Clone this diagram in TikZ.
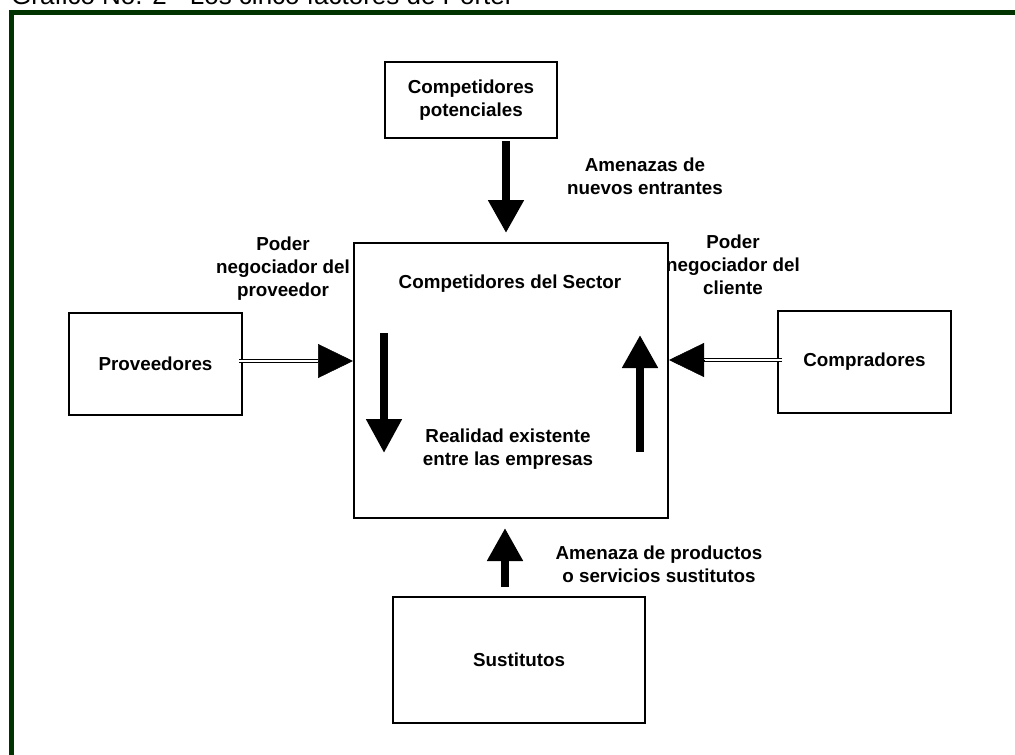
\documentclass[tikz,border=0pt]{standalone}
\usepackage{fontspec}
\setmainfont{Liberation Sans}
\usetikzlibrary{arrows.meta,positioning}
\definecolor{marco}{RGB}{0,51,0}

\begin{document}
\begin{tikzpicture}[x=1pt,y=-1pt,
    caja/.style={draw,line width=2pt,font=\bfseries\fontsize{18.8}{23}\selectfont,align=center,inner sep=0pt},
    etiqueta/.style={font=\bfseries\fontsize{18.8}{23}\selectfont,align=center,inner sep=0pt},
    fuerza/.style={line width=8pt,-{Triangle[width=34pt,length=33pt]}},
    doble/.style={double,double distance=1.6pt,line width=1.6pt},
    punta/.style={line width=0.5pt,-{Triangle[width=34pt,length=35pt]}}]
    \useasboundingbox (0,0) rectangle (1015,755);
    \clip (0,0) rectangle (1015,755);
    \fill[white] (0,0) rectangle (1015,755);

    \node[anchor=base west,inner sep=0pt,font=\fontsize{26}{30}\selectfont]
    (titulo) at (11,4.5) {Gráfico No. 2 - Los cinco factores de Porter};
    \draw[marco,line width=5.5pt] (11.7,780) -- (11.7,12.5) -- (1040,12.5);

    \node[caja,minimum width=172pt,minimum height=76pt] (top) at (471,100)
    {Competidores\\potenciales};
    \node[caja,minimum width=314pt,minimum height=275pt] (main) at (511,380.5) {};
    \node[caja,minimum width=173pt,minimum height=102pt] (prov) at (155.5,364) {Proveedores};
    \node[caja,minimum width=173pt,minimum height=102pt] (comp) at (864.5,362) {Compradores};
    \node[caja,minimum width=252pt,minimum height=126pt] (sust) at (519,660) {Sustitutos};

    \node[etiqueta] (sector) at (510,284) {Competidores del Sector};
    \node[etiqueta] (realidad) at (508,449) {Realidad existente\\entre las empresas};
    \node[etiqueta] (entrantes) at (645,176) {Amenazas de\\nuevos entrantes};
    \node[etiqueta] (poderprov) at (283,269) {Poder\\negociador del\\proveedor};
    \node[etiqueta] (podercli) at (733,265) {Poder\\negociador del\\cliente};
    \node[etiqueta] (sustitutos) at (659,564) {Amenaza de productos\\o servicios sustitutos};

    % fuerzas verticales
    \draw[fuerza,shorten <=2pt,shorten >=9pt] ([xshift=35pt]top.south) -- ([xshift=-5pt]main.north);
    \draw[fuerza,shorten <=9pt,shorten >=9pt] ([xshift=-14pt]sust.north) -- ([xshift=-6pt]main.south);

    % fuerzas horizontales
    \coordinate (baseprov) at ([shift={(-35,-19.5)}]main.west);
    \coordinate (basecli) at ([shift={(35,-20.5)}]main.east);
    \draw[doble] ([shift={(-4,-3)}]prov.east) -- (baseprov);
    \draw[punta] (baseprov) -- ([yshift=19.5pt]main.west);
    \draw[doble] ([shift={(5,-2)}]comp.west) -- (basecli);
    \draw[punta] (basecli) -- ([yshift=20.5pt]main.east);

    % rivalidad interna
    \coordinate (bajaini) at (384,333);
    \coordinate (bajafin) at (384,453);
    \coordinate (subeini) at (640,452);
    \coordinate (subefin) at (640,335);
    \draw[line width=8pt,-{Triangle[width=34pt,length=34pt]}] (bajaini) -- (bajafin);
    \draw[fuerza] (subeini) -- (subefin);
\end{tikzpicture}
\end{document}
